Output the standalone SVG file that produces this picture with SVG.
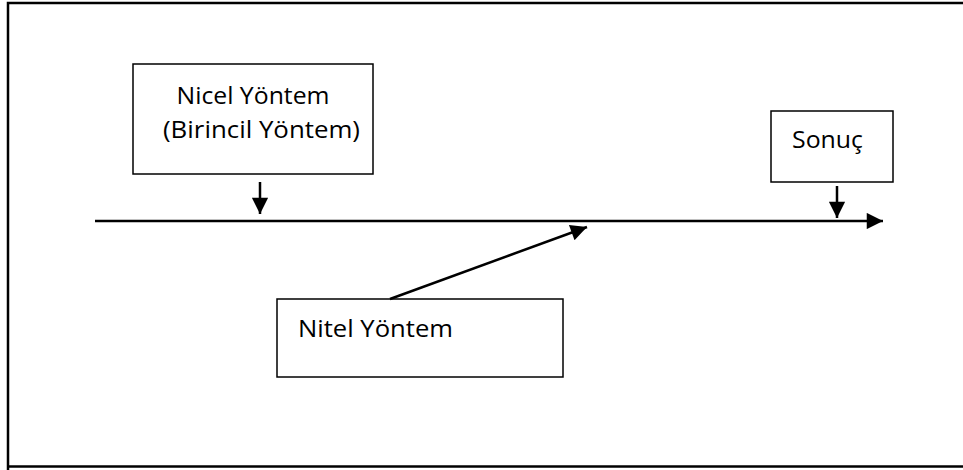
<svg xmlns="http://www.w3.org/2000/svg" width="963" height="470" viewBox="0 0 963 470">
  <style>
    .box { fill: #ffffff; stroke: #000000; stroke-width: 1.5; }
    .lbl { font-family: "Open Sans", "Noto Sans", "DejaVu Sans", sans-serif; font-size: 23px; fill: #000000; }
    .edge { stroke: #000000; stroke-width: 2.5; fill: none; }
  </style>
  <defs>
    <marker id="head" viewBox="0 0 10 10" refX="10" refY="5" markerWidth="7" markerHeight="6.5" markerUnits="strokeWidth" orient="auto">
      <path d="M0,0 L10,5 L0,10 z" fill="#000000"/>
    </marker>
  </defs>

  <rect width="963" height="470" fill="#ffffff"/>
  <!-- outer frame (right edge runs past the page) -->
  <path d="M8,470 L8,3 L970,3" fill="none" stroke="#000000" stroke-width="2.5"/>
  <path d="M8,466.5 L970,466.5" fill="none" stroke="#000000" stroke-width="2.5"/>

  <g id="node-nicel">
    <rect class="box" x="133" y="64" width="240" height="110"/>
    <text class="lbl" x="253" y="104" text-anchor="middle" textLength="153" lengthAdjust="spacingAndGlyphs">Nicel Yöntem</text>
    <text class="lbl" x="261.5" y="138" text-anchor="middle" textLength="197" lengthAdjust="spacingAndGlyphs">(Birincil Yöntem)</text>
  </g>

  <g id="node-sonuc">
    <rect class="box" x="771" y="111" width="122" height="71"/>
    <text class="lbl" x="792" y="148" textLength="71" lengthAdjust="spacingAndGlyphs">Sonuç</text>
  </g>

  <g id="node-nitel">
    <rect class="box" x="277" y="299" width="286" height="78"/>
    <text class="lbl" x="298" y="337" textLength="155" lengthAdjust="spacingAndGlyphs">Nitel Yöntem</text>
  </g>

  <g id="connectors">
    <line class="edge" x1="95" y1="221" x2="883" y2="221" marker-end="url(#head)"/>
    <line class="edge" x1="260" y1="182" x2="260" y2="214" marker-end="url(#head)"/>
    <line class="edge" x1="837" y1="186" x2="837" y2="218" marker-end="url(#head)"/>
    <line class="edge" x1="390" y1="299" x2="587" y2="227" marker-end="url(#head)"/>
  </g>
</svg>
